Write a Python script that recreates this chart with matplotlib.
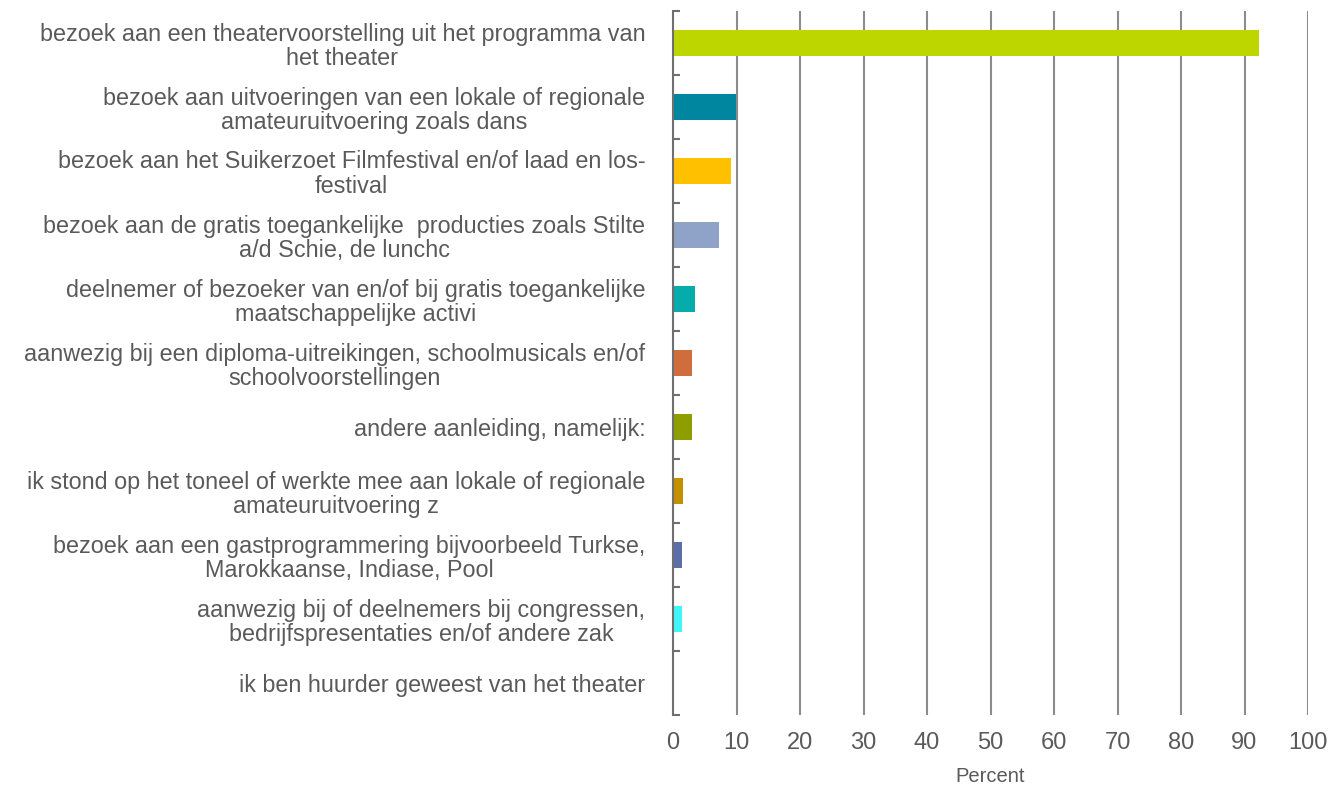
import numpy as np
import matplotlib
matplotlib.use('Agg')
import matplotlib.pyplot as plt
from matplotlib.ticker import FixedLocator, NullFormatter

""" Horizontal bar chart: aanleiding voor bezoek aan het theater (percent) """

# Categories (wrapped as in the original chart)
categories = [
	'bezoek aan een theatervoorstelling uit het programma van\nhet theater',
	'bezoek aan uitvoeringen van een lokale of regionale\namateuruitvoering zoals dans',
	'bezoek aan het Suikerzoet Filmfestival en/of laad en los-\nfestival',
	'bezoek aan de gratis toegankelijke  producties zoals Stilte\na/d Schie, de lunchc',
	'deelnemer of bezoeker van en/of bij gratis toegankelijke\nmaatschappelijke activi',
	'aanwezig bij een diploma-uitreikingen, schoolmusicals en/of\nschoolvoorstellingen',
	'andere aanleiding, namelijk:',
	'ik stond op het toneel of werkte mee aan lokale of regionale\namateuruitvoering z',
	'bezoek aan een gastprogrammering bijvoorbeeld Turkse,\nMarokkaanse, Indiase, Pool',
	'aanwezig bij of deelnemers bij congressen,\nbedrijfspresentaties en/of andere zak',
	'ik ben huurder geweest van het theater',
]

# Percentages
percent = [92.3, 9.9, 9.1, 7.2, 3.5, 3.0, 3.0, 1.6, 1.4, 1.4, 0.2]

bar_colors = ['#BED600', '#0087A0', '#FFC000', '#8FA2C8', '#06ABAB', '#D06D3C',
	'#8E9E00', '#C49000', '#5A6EAA', '#40F5F8', '#BED600']

x_ticks = list(range(0, 101, 10))

text_color = '#5a5a5a'
plt.rcParams['font.family'] = ['Liberation Sans', 'DejaVu Sans']

fig = plt.figure(figsize=(13.41, 7.85), dpi=100)
ax = fig.add_axes([673 / 1341, 1 - 715 / 785, (1308 - 673) / 1341, (715 - 11) / 785])

y_pos = np.arange(len(categories))
ax.barh(y_pos, percent, height=0.4, color=bar_colors, zorder=3)

# Axis limits
ax.set_xlim(0, 100)
ax.set_ylim(len(categories) - 0.5, -0.5)

# Vertical gridlines
for t in x_ticks[1:]:
	ax.axvline(t, color='#8c8c8c', linewidth=1.5, zorder=1)

# Spines
for side in ['top', 'right', 'bottom']:
	ax.spines[side].set_visible(False)
ax.spines['left'].set_color('#6f6f6f')
ax.spines['left'].set_linewidth(1.5)
ax.spines['left'].set_zorder(4)

# X ticks
ax.set_xticks(x_ticks)
ax.set_xticklabels([str(t) for t in x_ticks])
ax.tick_params(axis='x', length=0, pad=12.5, labelsize=17, labelcolor=text_color)
ax.set_xlabel('Percent', fontsize=14.5, color=text_color, labelpad=9)

# Y ticks: labels on major, boundary marks on minor
ax.set_yticks(y_pos)
ax.set_yticklabels(categories, ha='right', multialignment='center', linespacing=1.08)
ax.tick_params(axis='y', which='major', length=0, pad=20, labelsize=16.8, labelcolor=text_color)
ax.yaxis.set_minor_locator(FixedLocator(np.arange(-0.5, len(categories), 1.0)))
ax.yaxis.set_minor_formatter(NullFormatter())
ax.tick_params(axis='y', which='minor', direction='in', length=5, width=1.5, color='#6f6f6f')

plt.savefig('out.png', dpi=100)
